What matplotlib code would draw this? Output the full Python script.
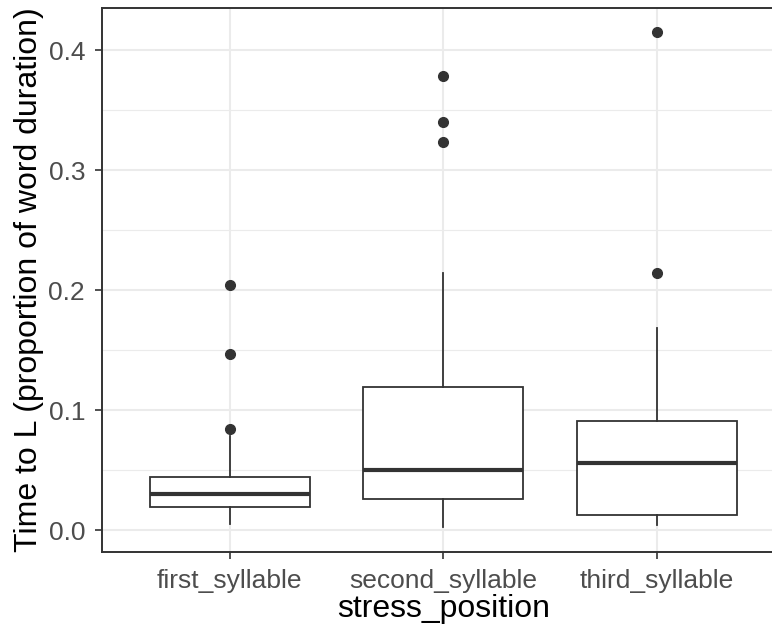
import matplotlib
matplotlib.use("Agg")
import matplotlib.pyplot as plt
from matplotlib.ticker import MultipleLocator

categories = ["first_syllable", "second_syllable", "third_syllable"]
q1 = [0.0194, 0.0256, 0.0128]
med = [0.030, 0.050, 0.0556]
q3 = [0.0439, 0.1194, 0.0911]
whislo = [0.005, 0.0028, 0.0044]
whishi = [0.078, 0.2144, 0.168]
outliers = [[0.084, 0.1467, 0.204], [0.323, 0.340, 0.378], [0.214, 0.415]]
yticks = [0.0, 0.1, 0.2, 0.3, 0.4]

plt.rcParams['font.family'] = ['Liberation Sans', 'DejaVu Sans']
fig = plt.figure(figsize=(7.72, 6.35), dpi=100)
# panel runs past the right edge of the image (reference is cropped)
ax = fig.add_axes([101.7 / 772, 1 - 552 / 635, 683.3 / 772, 544 / 635])

stats = []
for i, c in enumerate(categories):
    stats.append(dict(label=c, q1=q1[i], med=med[i], q3=q3[i],
                      whislo=whislo[i], whishi=whishi[i], fliers=outliers[i]))

g20 = "#333333"
ax.bxp(stats, positions=[1, 2, 3], widths=0.75, showcaps=False, patch_artist=True,
       boxprops=dict(facecolor="white", edgecolor=g20, linewidth=1.3),
       medianprops=dict(color=g20, linewidth=3.0, solid_capstyle="butt"),
       whiskerprops=dict(color=g20, linewidth=1.3),
       flierprops=dict(marker="o", markerfacecolor=g20, markeredgecolor=g20, markersize=7),
       zorder=3)

ax.set_xlim(0.4, 3.6)
ax.set_ylim(-0.0183, 0.435)
ax.set_yticks(yticks)
ax.set_yticklabels([f"{v:.1f}" for v in yticks])
ax.yaxis.set_minor_locator(MultipleLocator(0.05))
ax.set_xticks([1, 2, 3])
ax.set_xticklabels(categories)
ax.set_axisbelow(True)
ax.grid(which="major", color="#EBEBEB", linewidth=1.5)
ax.grid(which="minor", axis="y", color="#EBEBEB", linewidth=0.8)
ax.tick_params(which="major", length=5, width=1.2, color=g20, labelcolor="#4D4D4D",
               labelsize=19)
ax.tick_params(axis="x", pad=7)
ax.tick_params(axis="y", pad=7)
ax.tick_params(which="minor", length=0)
for s in ax.spines.values():
    s.set_color(g20)
    s.set_linewidth(1.4)
ax.set_xlabel("stress_position", fontsize=23, color="black", labelpad=1)
ax.set_ylabel("Time to L (proportion of word duration)", fontsize=23, color="black", labelpad=3)

fig.savefig("out.png", dpi=100)
